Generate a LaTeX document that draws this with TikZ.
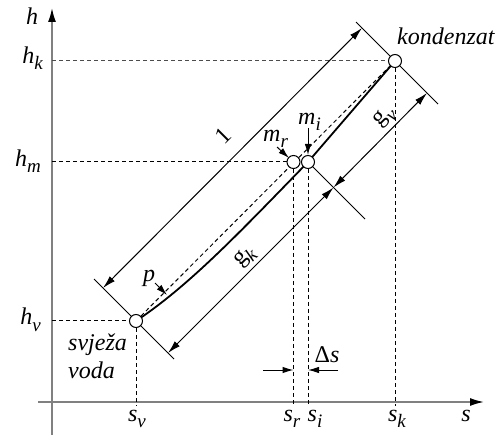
\documentclass[tikz,border=0pt]{standalone}
\usepackage{fontspec}
\setmainfont{Liberation Serif}
\usetikzlibrary{arrows.meta}
\newcommand\lowsub[1]{\raisebox{-6pt}{\fontsize{19}{19}\selectfont\itshape #1}}
\begin{document}
\begin{tikzpicture}[x=1pt,y=-1pt,
  lbl/.style={font=\fontsize{24}{28}\selectfont\itshape, inner sep=0pt},
  thinl/.style={line width=1pt},
  dimline/.style={line width=1pt, {Latex[length=13pt,width=7pt]}-{Latex[length=13pt,width=7pt]}},
  pointer/.style={line width=1pt, -{Latex[length=11pt,width=6.5pt]}},
  proj/.style={dash pattern=on 4pt off 3pt, line width=1pt},
  pt/.style={circle, draw, line width=1pt, fill=white, minimum size=13pt, inner sep=0pt},
  axisline/.style={line width=1.6pt, draw=black!50, -{Latex[length=14pt,width=8pt,color=black]}}]

\useasboundingbox (0,0) rectangle (503,435);

% key points
\coordinate (cA) at (136,321);
\coordinate (cK) at (395,61);
\coordinate (cMr) at (293.5,162);
\coordinate (cMi) at (308,162);

% axes
\coordinate (ybot) at (52,435);
\coordinate (ytop) at (52,8);
\coordinate (xl) at (38,402);
\coordinate (xr) at (484,402);
\draw[axisline] (ybot) -- (ytop);
\draw[axisline] (xl) -- (xr);

% projections
\coordinate (hk0) at (52,61);
\coordinate (hm0) at (52,162);
\coordinate (hv0) at (52,321);
\coordinate (sv0) at (136,406);
\coordinate (sr0) at (293.5,406);
\coordinate (si0) at (308,406);
\coordinate (sk0) at (395,406);
\draw[proj, black!70] (hk0) -- (cK);
\draw[proj] (hm0) -- (cMr);
\draw[proj] (hv0) -- (cA);
\draw[proj] (cA) -- (sv0);
\draw[proj] (cMr) -- (sr0);
\draw[proj] (cMi) -- (si0);
\draw[proj] (cK) -- (sk0);

% extension lines
\coordinate (eA1) at (94,279);
\coordinate (eA2) at (174,359);
\coordinate (eK1) at (356,22);
\coordinate (eK2) at (438,104);
\coordinate (eM2) at (365,219);
\draw[thinl] (eA1) -- (eA2);
\draw[thinl] (eK1) -- (eK2);
\draw[thinl] (cMi) -- (eM2);

% dimension lines
\coordinate (d1a) at (103,288);
\coordinate (d1b) at (362,28);
\draw[dimline] (d1a) -- (d1b);
\coordinate (gA) at (168,353);
\coordinate (gK) at (427,93);
\coordinate (gM) at (333.5,187.5);
\draw[dimline] (gM) -- (gA);
\draw[dimline] (gM) -- (gK);

% process lines
\draw[proj] (cA) -- (cK);
\draw[line width=1.8pt] (cA) .. controls (190,285) and (240,232) .. (cMi) -- (cK);

% points
\node[pt] (A) at (cA) {};
\node[pt] (K) at (cK) {};
\node[pt] (Mr) at (cMr) {};
\node[pt] (Mi) at (cMi) {};

% pointers
\coordinate (pS) at (155,283);
\coordinate (pE) at (167,295);
\draw[pointer] (pS) -- (pE);
\coordinate (mrS) at (277,147);
\coordinate (mrE) at (289,158);
\draw[pointer] (mrS) -- (mrE);
\coordinate (miS) at (308,128);
\draw[pointer] (miS) -- (Mi.north);
\coordinate (dsl) at (263,370);
\coordinate (dslE) at (293.5,370);
\coordinate (dsr) at (338,370);
\coordinate (dsrE) at (308,370);
\draw[pointer] (dsl) -- (dslE);
\draw[pointer] (dsr) -- (dsrE);

% labels
\node[lbl, anchor=base] (lh) at (32,25) {h};
\node[lbl, anchor=base east] (lhk) at (43,64) {h\lowsub{k}};
\node[lbl, anchor=base east] (lhm) at (41,167) {h\lowsub{m}};
\node[lbl, anchor=base east] (lhv) at (41,325) {h\lowsub{v}};
\node[lbl, anchor=base] (lsv) at (137,421) {s\lowsub{v}};
\node[lbl, anchor=base] (lsr) at (292,421) {s\lowsub{r}};
\node[lbl, anchor=base] (lsi) at (315,421) {s\lowsub{i}};
\node[lbl, anchor=base] (lsk) at (397,421) {s\lowsub{k}};
\node[lbl, anchor=base] (ls) at (466,421) {s};
\node[lbl, anchor=base] (lds) at (327,362) {{\upshape Δ}s};
\node[lbl, anchor=base west] (lkond) at (397,45) {kondenzat};
\node[lbl, anchor=base west] (lsv1) at (68,350) {svježa};
\node[lbl, anchor=base west] (lsv2) at (68,378) {voda};
\node[lbl, anchor=base west] (lmr) at (263,142) {m\lowsub{r}};
\node[lbl, anchor=base west] (lmi) at (298,125) {m\lowsub{i}};
\node[lbl, anchor=base west] (lp) at (143,282) {p};
\node[lbl, rotate=45] (l1) at (223,136) {\upshape 1};
\node[lbl, rotate=45] (lgk) at (245,257) {{\upshape g}\lowsub{k}};
\node[lbl, rotate=45] (lgv) at (385,117) {{\upshape g}\lowsub{v}};
\end{tikzpicture}
\end{document}
